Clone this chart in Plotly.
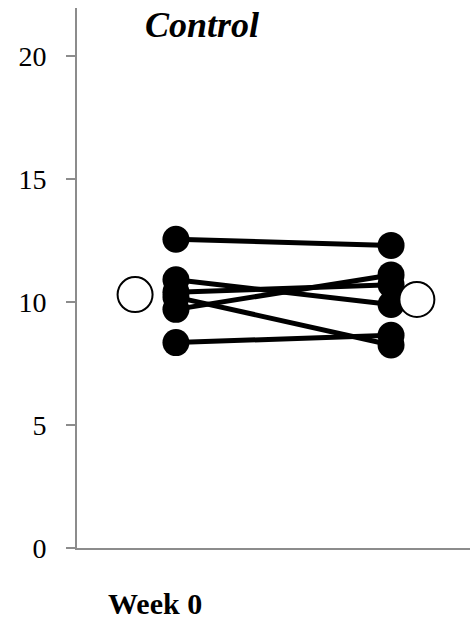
import plotly.graph_objects as go

# Individual subjects: value at first and second time point
week0_values = [12.55, 10.9, 10.4, 10.2, 9.7, 8.35]
week_end_values = [12.3, 9.9, 10.7, 8.25, 11.1, 8.65]
# Group means (open circles)
mean_values = [10.3, 10.1]

x_subject = [1.0, 2.0]
x_mean = [0.81, 2.12]

y_ticks = [0, 5, 10, 15, 20]

fig = go.Figure()

for a, b in zip(week0_values, week_end_values):
    fig.add_trace(go.Scatter(
        x=x_subject, y=[a, b], mode="lines+markers",
        line=dict(color="black", width=5),
        marker=dict(color="black", size=27, line=dict(width=0)),
        showlegend=False, hoverinfo="skip"))

fig.add_trace(go.Scatter(
    x=x_mean, y=mean_values, mode="markers",
    marker=dict(color="white", size=35, line=dict(color="black", width=2)),
    showlegend=False, hoverinfo="skip"))

font_family = "Liberation Serif, Times New Roman, serif"

W, H = 471, 621
ML, MR, MT, MB = 77, 1, 8, 73
plot_w = W - ML - MR
plot_h = H - MT - MB

fig.update_layout(
    width=W, height=H,
    margin=dict(l=ML, r=MR, t=MT, b=MB),
    paper_bgcolor="white", plot_bgcolor="white",
    font=dict(family=font_family, color="black", size=22),
    xaxis=dict(range=[0.54, 2.367], showgrid=False, zeroline=False,
               showticklabels=False, ticks="", showline=True,
               linecolor="#8c8c8c", linewidth=2),
    yaxis=dict(range=[0, 21.95], showgrid=False, zeroline=False,
               tickvals=y_ticks, ticks="outside", ticklen=9, tickwidth=2,
               tickcolor="#8c8c8c", showline=True, linecolor="#8c8c8c",
               linewidth=2, tickfont=dict(size=28, family=font_family),
               ticklabelstandoff=14),
    annotations=[
        dict(text="<b><i>Control</i></b>", xref="paper", yref="paper",
             x=(202 - ML) / plot_w, y=(H - MB - 25) / plot_h,
             xanchor="center", yanchor="middle",
             showarrow=False, font=dict(size=36, family=font_family)),
        dict(text="<b>Week 0</b>", xref="paper", yref="paper",
             x=(155 - ML) / plot_w, y=(H - MB - 603) / plot_h,
             xanchor="center", yanchor="middle",
             showarrow=False, font=dict(size=30, family=font_family)),
    ],
)

fig.write_html("out.html",
               config={"displayModeBar": False},
               post_script="document.body.style.margin='0';document.body.style.overflow='hidden';")
